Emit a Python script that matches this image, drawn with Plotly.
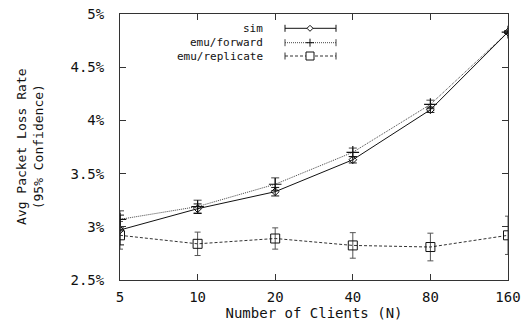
import plotly.graph_objects as go

clients = [5, 10, 20, 40, 80, 160]
sim = [2.97, 3.17, 3.33, 3.63, 4.10, 4.83]
sim_err = [0.14, 0.045, 0.04, 0.03, 0.025, 0.01]
fwd = [3.07, 3.19, 3.40, 3.70, 4.15, 4.83]
fwd_err = [0.08, 0.06, 0.06, 0.04, 0.04, 0.01]
rep = [2.92, 2.84, 2.89, 2.825, 2.81, 2.92]
rep_err = [0.13, 0.11, 0.10, 0.12, 0.13, 0.18]

ytick_vals = [2.5, 3.0, 3.5, 4.0, 4.5, 5.0]
ytick_text = ["2.5%", "3%", "3.5%", "4%", "4.5%", "5%"]
xtick_vals = clients
xtick_text = ["5", "10", "20", "40", "80", "160"]
legend_names = ["sim", "emu/forward", "emu/replicate"]

FONT = "DejaVu Sans Mono"
INK = "#111111"

fig = go.Figure()
fig.add_trace(go.Scatter(
    x=clients, y=rep, mode="lines+markers", name=legend_names[2],
    line=dict(color="#333333", width=1, dash="3px,2px"),
    marker=dict(symbol="square-open", size=9, color="#111111", line=dict(width=1)),
    error_y=dict(type="data", array=rep_err, color="#555555", thickness=1, width=3),
))
fig.add_trace(go.Scatter(
    x=clients, y=fwd, mode="lines+markers", name=legend_names[1],
    line=dict(color="#444444", width=1, dash="1px,1px"),
    marker=dict(symbol="cross-thin-open", size=9, color="#111111", line=dict(width=1.2)),
    error_y=dict(type="data", array=fwd_err, color="#444444", thickness=1, width=4),
))
fig.add_trace(go.Scatter(
    x=clients, y=sim, mode="lines+markers", name=legend_names[0],
    line=dict(color="#111111", width=1),
    marker=dict(symbol="diamond-open", size=6, color="#111111", line=dict(width=1)),
    error_y=dict(type="data", array=sim_err, color="#111111", thickness=1, width=4),
))

# Custom gnuplot-style key (positions in screen pixels -> paper coords)
W, H = 388.0, 266.0
def px(xp):
    return (xp - 120) / W
def py(yp):
    return 1 - (yp - 14) / H

rows = [28.3, 42.7, 56.0]
styles = [
    dict(color="#111111", width=1),
    dict(color="#444444", width=1, dash="1px,1px"),
    dict(color="#333333", width=1, dash="3px,2px"),
]
shapes = []
annotations = []
for name, yr, st in zip(legend_names, rows, styles):
    annotations.append(dict(
        x=px(264), y=py(yr), xref="paper", yref="paper", text=name,
        showarrow=False, xanchor="right", yanchor="middle", borderpad=0,
        font=dict(family=FONT, size=11, color=INK)))
    shapes.append(dict(type="line", xref="paper", yref="paper",
                       x0=px(285), x1=px(336), y0=py(yr), y1=py(yr), line=st))
    for xe in (285, 336):
        shapes.append(dict(type="line", xref="paper", yref="paper",
                           x0=px(xe), x1=px(xe), y0=py(yr - 3.5), y1=py(yr + 3.5),
                           line=dict(color=st["color"], width=1)))
# key markers
cx = 310
shapes.append(dict(type="path", xref="paper", yref="paper",
                   path="M {} {} L {} {} L {} {} L {} {} Z".format(
                       px(cx - 3), py(rows[0]), px(cx), py(rows[0] - 3),
                       px(cx + 3), py(rows[0]), px(cx), py(rows[0] + 3)),
                   line=dict(color=INK, width=1), fillcolor="white"))
shapes.append(dict(type="line", xref="paper", yref="paper",
                   x0=px(cx - 4), x1=px(cx + 4), y0=py(rows[1]), y1=py(rows[1]),
                   line=dict(color=INK, width=1)))
shapes.append(dict(type="line", xref="paper", yref="paper",
                   x0=px(cx), x1=px(cx), y0=py(rows[1] - 4), y1=py(rows[1] + 4),
                   line=dict(color=INK, width=1)))
shapes.append(dict(type="rect", xref="paper", yref="paper",
                   x0=px(cx - 4), x1=px(cx + 4), y0=py(rows[2] - 4), y1=py(rows[2] + 4),
                   line=dict(color=INK, width=1), fillcolor="white"))

annotations.append(dict(
    x=px(30), y=0.5, xref="paper", yref="paper",
    text="Avg Packet Loss Rate<br>(95% Confidence)", textangle=-90,
    showarrow=False, xanchor="center", yanchor="middle",
    font=dict(family=FONT, size=13, color=INK)))

fig.update_layout(
    template="none",
    width=527, height=326,
    margin=dict(l=120, r=19, t=14, b=46, autoexpand=False),
    paper_bgcolor="white", plot_bgcolor="white",
    showlegend=False,
    font=dict(family=FONT, size=14, color=INK),
    shapes=shapes, annotations=annotations,
    xaxis=dict(
        type="log", range=[0.69897, 2.20412], automargin=False,
        tickvals=xtick_vals, ticktext=xtick_text,
        ticks="inside", ticklen=6, tickcolor="#333333",
        showline=True, linecolor="#333333", linewidth=1, mirror="ticks",
        showgrid=False, zeroline=False,
        ticklabelstandoff=4, ticklabeloverflow="allow",
        tickfont=dict(family=FONT, size=14, color=INK),
        title=dict(text="Number of Clients (N)", standoff=4,
                   font=dict(family=FONT, size=14, color=INK)),
    ),
    yaxis=dict(
        range=[2.5, 5.0], tickvals=ytick_vals, ticktext=ytick_text, automargin=False,
        ticks="inside", ticklen=6, tickcolor="#333333",
        showline=True, linecolor="#333333", linewidth=1, mirror="ticks",
        showgrid=False, zeroline=False,
        ticklabelstandoff=12, ticklabeloverflow="allow",
        tickfont=dict(family=FONT, size=14, color=INK),
    ),
)

# remove the browser's default 8px body margin so the figure fills the window
fig.write_html("out.html", config={"displayModeBar": False},
               post_script="document.body.style.margin='0';")
